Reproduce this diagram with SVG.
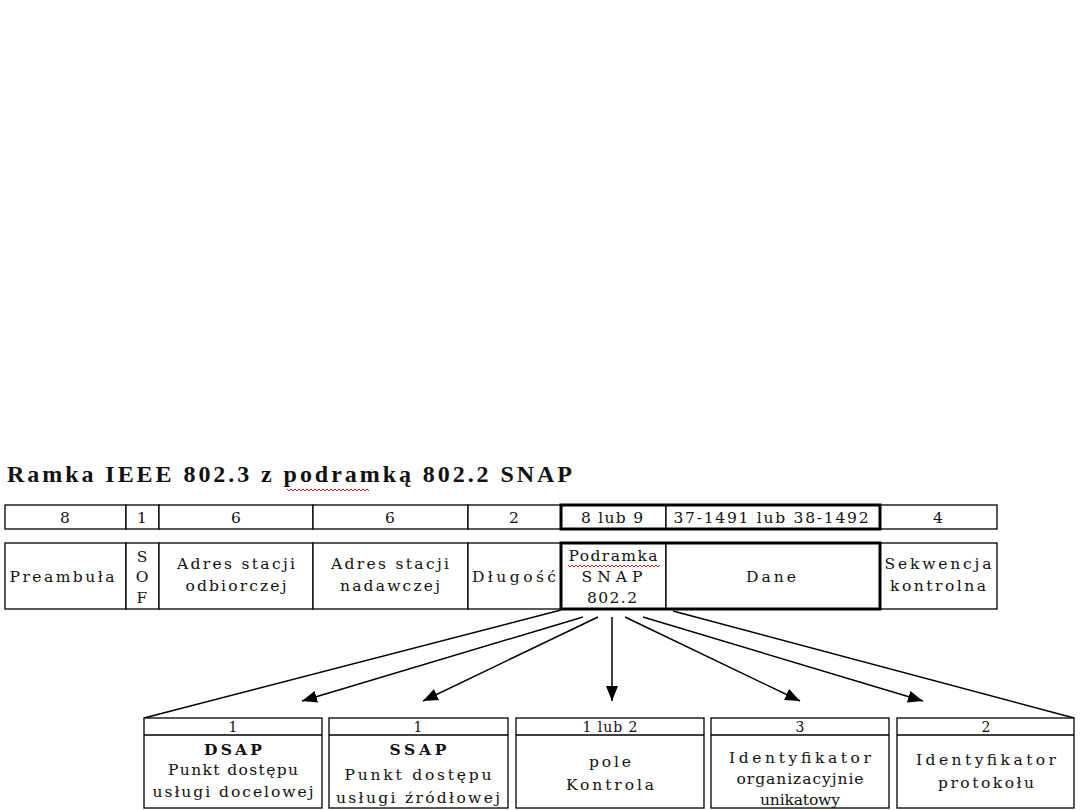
<svg xmlns="http://www.w3.org/2000/svg" width="1080" height="810" viewBox="0 0 1080 810">
<style>
.cell{fill:#fff;stroke:#000;stroke-width:1.3}
.thick{fill:none;stroke:#000;stroke-width:3}
.t{font-family:"DejaVu Serif","Liberation Serif",serif;font-size:15.5px;fill:#111;text-anchor:middle}
.r{font-family:"DejaVu Serif","Liberation Serif",serif;font-size:15.5px;fill:#111;text-anchor:middle}
.n{font-family:"DejaVu Serif","Liberation Serif",serif;font-size:14px;fill:#111;text-anchor:middle}
.b{font-weight:bold}
.title{font-family:"Liberation Serif","Times New Roman",serif;font-size:24px;font-weight:bold;fill:#111}
.con{stroke:#000;stroke-width:1.5;fill:none}
.wave{stroke:#d02020;stroke-width:1;fill:none}
</style>
<defs>
<marker id="ah" markerUnits="userSpaceOnUse" markerWidth="16" markerHeight="12" refX="15" refY="6" orient="auto">
<path d="M0,0 L15,6 L0,12 z" fill="#000"/>
</marker>
</defs>
<rect width="1080" height="810" fill="#fff"/>

<g id="title">
<text class="title" x="7" y="482" textLength="565" lengthAdjust="spacing">Ramka IEEE 802.3 z podramką 802.2 SNAP</text>
<path class="wave" d="M287,489 l2,2 l2,-2 l2,2 l2,-2 l2,2 l2,-2 l2,2 l2,-2 l2,2 l2,-2 l2,2 l2,-2 l2,2 l2,-2 l2,2 l2,-2 l2,2 l2,-2 l2,2 l2,-2 l2,2 l2,-2 l2,2 l2,-2 l2,2 l2,-2 l2,2 l2,-2 l2,2 l2,-2 l2,2 l2,-2 l2,2 l2,-2 l2,2 l2,-2 l2,2 l2,-2 l2,2 l2,-2 l2,2"/>
</g>

<g id="sizes">
<rect class="cell" x="5" y="505" width="121" height="24"/>
<rect class="cell" x="126" y="505" width="33" height="24"/>
<rect class="cell" x="159" y="505" width="154" height="24"/>
<rect class="cell" x="313" y="505" width="155" height="24"/>
<rect class="cell" x="468" y="505" width="93" height="24"/>
<rect class="cell" x="561" y="505" width="105" height="24"/>
<rect class="cell" x="666" y="505" width="214" height="24"/>
<rect class="cell" x="880" y="505" width="117" height="24"/>
<rect class="thick" x="561" y="505" width="319" height="24"/>
<text class="r" x="65" y="523">8</text>
<text class="r" x="142" y="523">1</text>
<text class="r" x="236" y="523">6</text>
<text class="r" x="390" y="523">6</text>
<text class="r" x="514" y="523">2</text>
<text class="r" x="612" y="523" textLength="62" lengthAdjust="spacing">8 lub 9</text>
<text class="r" x="771" y="523" textLength="195" lengthAdjust="spacing">37-1491 lub 38-1492</text>
<text class="r" x="938" y="523">4</text>
</g>

<g id="preambula">
<rect class="cell" x="5" y="543" width="121" height="66"/>
<text class="t" x="62" y="582" textLength="105">Preambuła</text>
</g>
<g id="sof">
<rect class="cell" x="126" y="543" width="33" height="66"/>
<text class="t" x="142" y="562">S</text>
<text class="t" x="142" y="582">O</text>
<text class="t" x="142" y="603">F</text>
</g>
<g id="adres-odbiorczej">
<rect class="cell" x="159" y="543" width="154" height="66"/>
<text class="t" x="236" y="569" textLength="118">Adres stacji</text>
<text class="t" x="236" y="591" textLength="101">odbiorczej</text>
</g>
<g id="adres-nadawczej">
<rect class="cell" x="313" y="543" width="155" height="66"/>
<text class="t" x="390" y="569" textLength="118">Adres stacji</text>
<text class="t" x="390" y="591" textLength="100">nadawczej</text>
</g>
<g id="dlugosc">
<rect class="cell" x="468" y="543" width="93" height="66"/>
<text class="t" x="514" y="582" textLength="84">Długość</text>
</g>
<g id="podramka">
<rect class="cell" x="561" y="543" width="105" height="66"/>
<text class="t" x="613" y="561" textLength="89">Podramka</text>
<text class="t" x="612" y="582" textLength="61">SNAP</text>
<text class="t" x="612" y="603" textLength="50">802.2</text>
<path class="wave" d="M568,565 l2,2 l2,-2 l2,2 l2,-2 l2,2 l2,-2 l2,2 l2,-2 l2,2 l2,-2 l2,2 l2,-2 l2,2 l2,-2 l2,2 l2,-2 l2,2 l2,-2 l2,2 l2,-2 l2,2 l2,-2 l2,2 l2,-2 l2,2 l2,-2 l2,2 l2,-2 l2,2 l2,-2 l2,2 l2,-2 l2,2 l2,-2 l2,2 l2,-2 l2,2 l2,-2 l2,2 l2,-2 l2,2 l2,-2 l2,2 l2,-2 l2,2 l2,-2"/>
</g>
<g id="dane">
<rect class="cell" x="666" y="543" width="214" height="66"/>
<text class="t" x="771" y="582" textLength="50">Dane</text>
</g>
<g id="sekwencja">
<rect class="cell" x="880" y="543" width="117" height="66"/>
<text class="t" x="938" y="569" textLength="107">Sekwencja</text>
<text class="t" x="938" y="591" textLength="96">kontrolna</text>
</g>
<rect class="thick" x="561" y="543" width="319" height="66"/>

<g id="connectors">
<line class="con" x1="561" y1="610" x2="144" y2="718"/>
<line class="con" x1="673" y1="611" x2="1074" y2="718"/>
<line class="con" x1="583" y1="617" x2="302" y2="701" marker-end="url(#ah)"/>
<line class="con" x1="598" y1="617" x2="423" y2="701" marker-end="url(#ah)"/>
<line class="con" x1="612" y1="617" x2="612" y2="701" marker-end="url(#ah)"/>
<line class="con" x1="625" y1="617" x2="800" y2="701" marker-end="url(#ah)"/>
<line class="con" x1="643" y1="617" x2="923" y2="701" marker-end="url(#ah)"/>
</g>

<g id="dsap">
<rect class="cell" x="144" y="718" width="178" height="90"/>
<line class="cell" x1="144" y1="735" x2="322" y2="735"/>
<text class="n" x="233" y="732">1</text>
<text class="t b" x="233" y="755" textLength="58">DSAP</text>
<text class="t" x="233" y="775" textLength="130">Punkt dostępu</text>
<text class="t" x="233" y="797" textLength="161">usługi docelowej</text>
</g>
<g id="ssap">
<rect class="cell" x="329" y="718" width="179" height="90"/>
<line class="cell" x1="329" y1="735" x2="508" y2="735"/>
<text class="n" x="418" y="732">1</text>
<text class="t b" x="418" y="755" textLength="57">SSAP</text>
<text class="t" x="418" y="780" textLength="147">Punkt dostępu</text>
<text class="t" x="418" y="803" textLength="164">usługi źródłowej</text>
</g>
<g id="kontrola">
<rect class="cell" x="516" y="718" width="188" height="90"/>
<line class="cell" x1="516" y1="735" x2="704" y2="735"/>
<text class="n" x="610" y="732" textLength="55">1 lub 2</text>
<text class="t" x="610" y="767" textLength="42">pole</text>
<text class="t" x="610" y="790" textLength="88">Kontrola</text>
</g>
<g id="oui">
<rect class="cell" x="711" y="718" width="178" height="90"/>
<line class="cell" x1="711" y1="735" x2="889" y2="735"/>
<text class="n" x="800" y="732">3</text>
<text class="t" x="800" y="763" textLength="142">Identyfikator</text>
<text class="t" x="800" y="784" textLength="127">organizacyjnie</text>
<text class="t" x="800" y="805" textLength="80">unikatowy</text>
</g>
<g id="protokol">
<rect class="cell" x="897" y="718" width="177" height="90"/>
<line class="cell" x1="897" y1="735" x2="1074" y2="735"/>
<text class="n" x="986" y="732">2</text>
<text class="t" x="986" y="765" textLength="140">Identyfikator</text>
<text class="t" x="986" y="788" textLength="96">protokołu</text>
</g>
</svg>
